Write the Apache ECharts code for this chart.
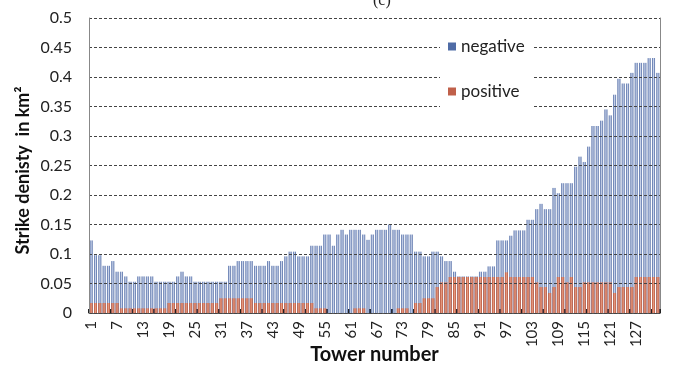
<!DOCTYPE html>
<html>
<head>
<meta charset="utf-8">
<script src="https://cdn.jsdelivr.net/npm/echarts@6/dist/echarts.min.js"></script>
<style>
html,body{margin:0;padding:0;background:#fff;}
#chart{width:673px;height:367px;}
</style>
</head>
<body>
<div id="chart"></div>
<script>
const categories = [
  '1','2','3','4','5','6','7','8','9','10','11','12','13','14','15','16','17','18','19','20',
  '21','22','23','24','25','26','27','28','29','30','31','32','33','34','35','36','37','38','39','40',
  '41','42','43','44','45','46','47','48','49','50','51','52','53','54','55','56','57','58','59','60',
  '61','62','63','64','65','66','67','68','69','70','71','72','73','74','75','76','77','78','79','80',
  '81','82','83','84','85','86','87','88','89','90','91','92','93','94','95','96','97','98','99','100',
  '101','102','103','104','105','106','107','108','109','110','111','112','113','114','115','116','117','118','119','120',
  '121','122','123','124','125','126','127','128','129','130','131','132'
];

const negative = [
  0.123,0.098,0.098,0.080,0.080,0.088,0.070,0.070,0.062,0.053,
  0.053,0.062,0.062,0.062,0.062,0.053,0.053,0.053,0.053,0.053,
  0.062,0.070,0.062,0.062,0.053,0.053,0.053,0.053,0.053,0.053,
  0.053,0.053,0.080,0.080,0.088,0.088,0.088,0.088,0.080,0.080,
  0.080,0.088,0.080,0.080,0.088,0.096,0.104,0.104,0.096,0.096,
  0.096,0.114,0.114,0.114,0.133,0.133,0.114,0.133,0.141,0.133,
  0.141,0.141,0.141,0.133,0.124,0.133,0.141,0.141,0.141,0.150,
  0.141,0.141,0.133,0.133,0.133,0.104,0.104,0.096,0.096,0.104,
  0.104,0.096,0.088,0.088,0.070,0.062,0.062,0.062,0.062,0.062,
  0.070,0.070,0.079,0.079,0.123,0.123,0.123,0.131,0.140,0.140,
  0.140,0.158,0.158,0.176,0.185,0.176,0.176,0.212,0.203,0.220,
  0.220,0.220,0.248,0.265,0.256,0.282,0.317,0.317,0.326,0.345,
  0.335,0.370,0.397,0.389,0.389,0.407,0.424,0.424,0.424,0.432,
  0.432,0.407
];

const positive = [
  0.017,0.017,0.017,0.017,0.017,0.017,0.017,0.008,0.008,0.008,
  0.008,0.008,0.008,0.008,0.008,0.008,0.008,0.008,0.017,0.017,
  0.017,0.017,0.017,0.017,0.017,0.017,0.017,0.017,0.017,0.017,
  0.025,0.025,0.025,0.025,0.025,0.025,0.025,0.025,0.017,0.017,
  0.017,0.017,0.017,0.017,0.017,0.017,0.017,0.017,0.017,0.017,
  0.017,0.017,0.008,0.008,0.008,0,0,0,0,0,
  0,0.008,0.008,0.008,0,0,0,0,0,0,
  0,0.008,0.008,0.008,0,0.017,0.017,0.025,0.025,0.025,
  0.044,0.052,0.052,0.061,0.061,0.061,0.061,0.061,0.061,0.061,
  0.061,0.061,0.061,0.061,0.061,0.061,0.069,0.061,0.061,0.061,
  0.061,0.061,0.061,0.052,0.044,0.044,0.034,0.044,0.061,0.061,
  0.052,0.061,0.044,0.044,0.052,0.052,0.052,0.052,0.052,0.052,
  0.052,0.034,0.044,0.044,0.044,0.044,0.061,0.061,0.061,0.061,
  0.061,0.061
];

const yMin = 0, yMax = 0.5, yStep = 0.05;
const xLabelEvery = 6;
const xTickEvery = 5;

const FONT = 'Lato, "Open Sans", "Liberation Sans", sans-serif';
const blueGrad = new echarts.graphic.LinearGradient(0, 0, 1, 0, [
  {offset: 0, color: '#4763a0'},
  {offset: 0.5, color: '#cad4ea'},
  {offset: 1, color: '#4763a0'}
]);
const redGrad = new echarts.graphic.LinearGradient(0, 0, 1, 0, [
  {offset: 0, color: '#b9533a'},
  {offset: 0.5, color: '#e59a80'},
  {offset: 1, color: '#b9533a'}
]);

const chart = echarts.init(document.getElementById('chart'), null, {renderer: 'canvas'});
chart.setOption({
  animation: false,
  backgroundColor: '#ffffff',
  textStyle: {fontFamily: FONT},
  graphic: [{
    type: 'text', left: 373, top: -7,
    style: {text: '(c)', font: '16px "Liberation Serif", serif', fill: '#222'}
  }],
  grid: {left: 89, right: 13, top: 18, bottom: 54, containLabel: false, outerBoundsMode: 'none'},
  legend: {
    orient: 'vertical',
    left: 440, top: 34,
    padding: [4, 9, 9, 8],
    backgroundColor: '#ffffff',
    itemWidth: 8, itemHeight: 8, itemGap: 28,
    icon: 'rect',
    textStyle: {fontSize: 17, color: '#222', fontFamily: FONT},
    data: [
      {name: 'negative', itemStyle: {color: '#4f6ca6'}},
      {name: 'positive', itemStyle: {color: '#c0604a'}}
    ]
  },
  xAxis: {
    type: 'category',
    data: categories,
    name: 'Tower number',
    nameLocation: 'middle',
    nameGap: 32,
    nameMoveOverlap: false,
    nameTextStyle: {fontSize: 20, fontWeight: 'bold', color: '#111', fontFamily: FONT},
    axisLine: {show: true, lineStyle: {color: '#555', width: 1}},
    axisTick: {show: true, inside: true, length: 4, interval: xTickEvery - 1, alignWithLabel: false,
      lineStyle: {color: '#222', width: 2}},
    axisLabel: {interval: xLabelEvery - 1, rotate: 90, fontSize: 15, margin: 8, color: '#222', fontFamily: FONT},
    splitLine: {show: false}
  },
  yAxis: [{
    type: 'value',
    min: yMin, max: yMax, interval: yStep,
    name: 'Strike denisty  in km²',
    nameLocation: 'middle',
    nameGap: 57,
    nameMoveOverlap: false,
    nameTextStyle: {fontSize: 18, fontWeight: 'bold', color: '#111', fontFamily: FONT, padding: [0, 10, 0, 0]},
    z: 3,
    axisLine: {show: true, lineStyle: {color: '#888', width: 1}},
    axisTick: {show: false},
    axisLabel: {fontSize: 16, color: '#222', margin: 17, fontFamily: FONT},
    splitLine: {show: true, lineStyle: {color: '#444', type: [3, 2], width: 1}}
  }, {
    type: 'value',
    position: 'right',
    min: yMin, max: yMax, interval: yStep,
    axisLine: {show: true, lineStyle: {color: '#888', width: 1}},
    axisTick: {show: false},
    axisLabel: {show: false},
    splitLine: {show: false}
  }],
  series: [{
    name: 'negative',
    type: 'bar',
    data: negative,
    barWidth: '70%',
    barGap: '-100%',
    itemStyle: {color: blueGrad}
  }, {
    name: 'positive',
    type: 'bar',
    data: positive,
    barWidth: '70%',
    barGap: '-100%',
    itemStyle: {color: redGrad}
  }]
});
</script>
</body>
</html>
